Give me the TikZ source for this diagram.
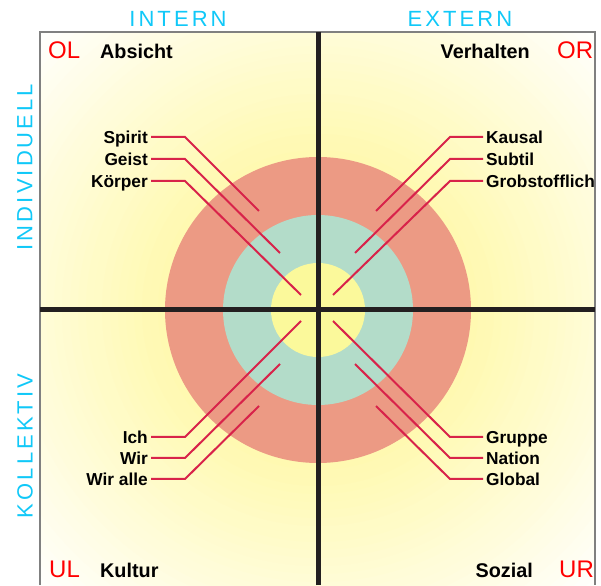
\documentclass[tikz,border=0pt]{standalone}
\usepackage{fontspec}
\setmainfont{Liberation Sans}
\newfontfamily\axisfont{Liberation Sans}[LetterSpace=14]

\definecolor{axiscyan}{HTML}{10C8F8}
\definecolor{leadred}{HTML}{D8234A}
\definecolor{ringouter}{HTML}{EC9A84}
\definecolor{ringmid}{HTML}{B3DCC9}
\definecolor{ringinner}{HTML}{FBF99B}
\definecolor{glowbase}{HTML}{FFF8A4}
\definecolor{crossline}{HTML}{231F20}

\tikzset{
  axis/.style={text=axiscyan, font=\axisfont\fontsize{22}{24}\selectfont, inner sep=0pt},
  tag/.style={text=red, font=\fontsize{24}{26}\selectfont, inner sep=0pt},
  quad/.style={font=\bfseries\fontsize{19.8}{22}\selectfont, inner sep=0pt},
  lbl/.style={font=\bfseries\fontsize{17.3}{20}\selectfont, text height=12.4pt, text depth=0pt, inner sep=3pt},
  leader/.style={leadred, line width=2pt},
}

\begin{document}
\begin{tikzpicture}[x=1pt,y=1pt]
  \useasboundingbox (0,0) rectangle (601,585);
  \coordinate (c) at (318,275);

  % background glow, fading to white toward the corners
  \begin{scope}
    \clip (40,0) rectangle (595,553);
    \foreach \r in {400,392,...,8}{
      \pgfmathtruncatemacro{\w}{max(0,min(100,(\r-120)/2.8))}
      \fill[white!\w!glowbase] (c) circle (\r);
    }
  \end{scope}
  \draw[gray, line width=1.2pt] (40,0) -- (40,553) -- (595,553) -- (595,0);

  % rings
  \fill[ringouter] (c) circle (153);
  \fill[ringmid] (c) circle (95);
  \fill[ringinner] (c) circle (47);

  % cross
  \draw[crossline, line width=5pt] (318,0) -- (318,553);
  \draw[crossline, line width=5pt] (40,275) -- (595,275);

  % axis titles
  \node[axis] (intern) at (178,566) {INTERN};
  \node[axis] (extern) at (460,566) {EXTERN};
  \node[axis, rotate=90] (indiv) at (25,418) {INDIVIDUELL};
  \node[axis, rotate=90] (kollek) at (25,139) {KOLLEKTIV};

  % quadrant tags
  \node[tag, anchor=base west] (ol) at (48,526) {OL};
  \node[quad, anchor=base west] (absicht) at (100,526) {Absicht};
  \node[quad, anchor=base east] (verhalten) at (530,526) {Verhalten};
  \node[tag, anchor=base west] (or) at (557,526) {OR};
  \node[tag, anchor=base west] (ul) at (49,8) {UL};
  \node[quad, anchor=base west] (kultur) at (100,8) {Kultur};
  \node[quad, anchor=base east] (sozial) at (533,8) {Sozial};
  \node[tag, anchor=base west] (ur) at (559,8) {UR};

  % left labels
  \foreach \nm/\txt/\y/\ex/\ey in {spirit/Spirit/448/259/374, geist/Geist/426/280/332,
      koerper/Körper/404/301/290, ich/Ich/148/301/264, wir/Wir/127/280/221,
      wiralle/Wir alle/106/259/179}{
    \node[lbl, anchor=east] (\nm) at (151,\y) {\txt};
    \coordinate (\nm-end) at (\ex,\ey);
    \draw[leader] (\nm.east) -- ++(34,0) -- (\nm-end);
  }

  % right labels
  \foreach \nm/\txt/\y/\ex/\ey in {kausal/Kausal/448/376/374, subtil/Subtil/426/355/332,
      grob/Grobstofflich/404/333/290, gruppe/Gruppe/148/333/264, nation/Nation/127/355/221,
      global/Global/106/376/179}{
    \node[lbl, anchor=west] (\nm) at (483,\y) {\txt};
    \coordinate (\nm-end) at (\ex,\ey);
    \draw[leader] (\nm.west) -- ++(-33,0) -- (\nm-end);
  }
\end{tikzpicture}
\end{document}
